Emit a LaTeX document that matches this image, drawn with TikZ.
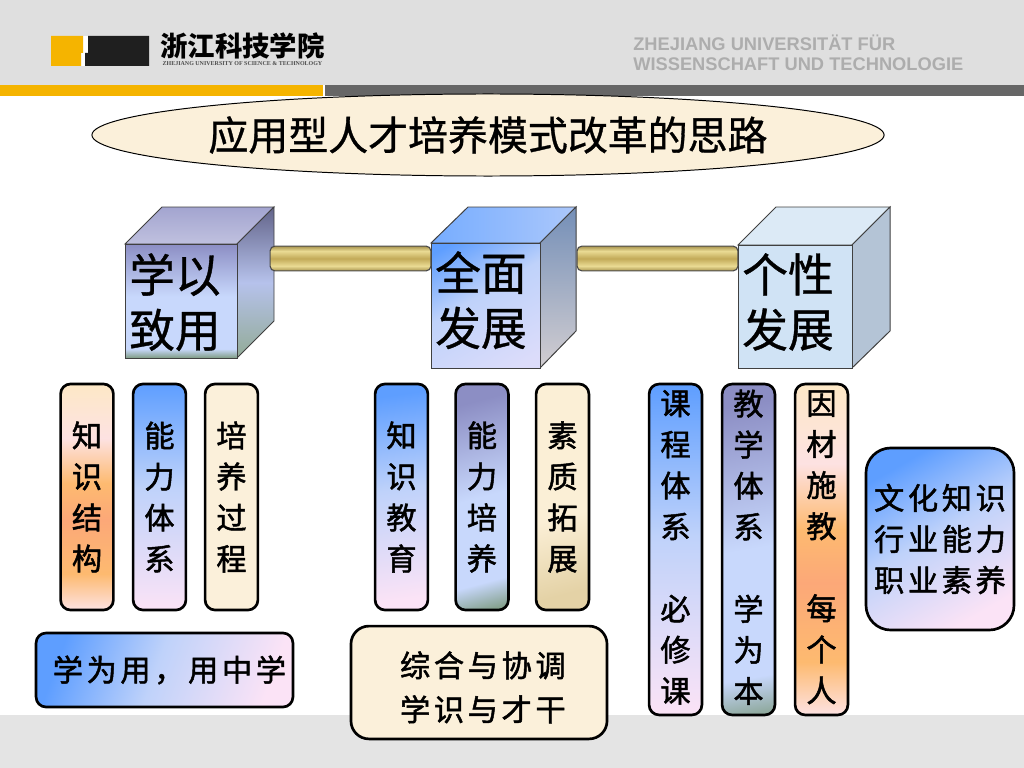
\documentclass[tikz,border=0pt]{standalone}
\usepackage{fontspec}
\usepackage{tikz}
\usetikzlibrary{shapes.geometric}
\newfontfamily\cjk[FakeBold=.8]{Noto Sans CJK SC}
\newfontfamily\cjklogo{Noto Sans CJK SC}
\newfontfamily\cjkbox[FakeBold=1.6]{Noto Sans CJK SC}
\newfontfamily\cjkwide[FakeBold=1.6,LetterSpace=12]{Noto Sans CJK SC}
\newfontfamily\latinlogo{Liberation Serif}
\newfontfamily\latinhead{Liberation Sans}

\definecolor{band}{HTML}{DFDFDF}
\definecolor{foot}{HTML}{E4E4E4}
\definecolor{gold}{HTML}{F5B400}
\definecolor{slate}{HTML}{666666}
\definecolor{parch}{HTML}{FBF0DA}
\definecolor{skyA}{HTML}{5E9EFF}
\definecolor{skyB}{HTML}{BFD2FA}
\definecolor{skyC}{HTML}{FBE3F6}
\definecolor{mauveA}{HTML}{8C8EC4}
\definecolor{mauveB}{HTML}{C8D8FC}
\definecolor{mossA}{HTML}{7F9C84}
\definecolor{peachA}{HTML}{FDE8C6}
\definecolor{peachB}{HTML}{FDE2E2}
\definecolor{peachC}{HTML}{FDBA70}
\definecolor{peachD}{HTML}{FCA878}
\definecolor{sandA}{HTML}{FBEFD6}
\definecolor{sandB}{HTML}{E4D2A6}
\definecolor{rodA}{HTML}{A8944E}
\definecolor{rodB}{HTML}{EADB94}
\definecolor{rodC}{HTML}{C2AA58}
\definecolor{iceA}{HTML}{DCEAF6}
\definecolor{iceB}{HTML}{D0E3F5}
\definecolor{iceC}{HTML}{B4C4D6}

\pgfdeclareverticalshading{skyfade}{100bp}{color(0bp)=(skyC); color(25bp)=(skyC); color(52bp)=(skyB); color(75bp)=(skyA); color(100bp)=(skyA)}
\pgfdeclareverticalshading{cubefade}{100bp}{color(0bp)=(mauveB!60!skyC); color(20bp)=(mauveB!60!skyC); color(55bp)=(skyB); color(80bp)=(skyA); color(100bp)=(skyA)}
\pgfdeclareverticalshading{mauvefade}{100bp}{color(0bp)=(mossA); color(25bp)=(mossA); color(29bp)=(mauveB); color(52bp)=(mauveB); color(75bp)=(mauveA); color(100bp)=(mauveA)}
\pgfdeclareverticalshading{cornerfade}{100bp}{color(0bp)=(mossA); color(20bp)=(mossA); color(28bp)=(mauveB); color(50bp)=(mauveB); color(75bp)=(mauveA); color(100bp)=(mauveA)}
\pgfdeclareverticalshading{peachfade}{100bp}{color(0bp)=(peachB); color(25bp)=(peachB); color(33bp)=(peachC); color(45bp)=(peachD); color(53bp)=(peachC); color(63bp)=(peachB); color(75bp)=(peachA); color(100bp)=(peachA)}
\pgfdeclareverticalshading{sandfade}{100bp}{color(0bp)=(sandB); color(25bp)=(sandB); color(45bp)=(sandA); color(100bp)=(sandA)}
\pgfdeclareverticalshading{rodfade}{100bp}{color(0bp)=(rodA); color(25bp)=(rodA); color(35bp)=(rodB); color(50bp)=(rodC); color(65bp)=(rodB); color(75bp)=(rodA); color(100bp)=(rodA)}

\tikzset{
  tallbox/.style={draw=black, line width=1.9pt, rounded corners=.25cm, inner sep=0pt,
    minimum width=1.32cm, minimum height=5.65cm, align=center,
    font=\cjkbox\fontsize{21.5}{29.2}\selectfont,
    execute at begin node={\rule{0pt}{21.7pt}}},
  longbox/.style={tallbox, minimum height=8.27cm,
    execute at begin node={}, execute at end node={\rule[-4.8pt]{0pt}{4.8pt}}},
  wordbox/.style={draw=black, line width=1.9pt, rounded corners=.25cm, inner sep=0pt, align=center,
    font=\cjkwide\fontsize{21.5}{29.2}\selectfont},
  facefront/.style={draw=black!75, line width=.7pt},
  cubetext/.style={inner sep=0pt, align=left, anchor=north west,
    font=\cjk\fontsize{32.5}{39.2}\selectfont},
  rodbar/.style={draw=black!70, line width=.8pt, rounded corners=.12cm, shading=rodfade,
    minimum height=.62cm, inner sep=0pt}
}

\begin{document}
\begin{tikzpicture}[x=.025cm,y=-.025cm]
\useasboundingbox (0,0) rectangle (1024,768);

% header and footer bands
\fill [band] (0,0) rectangle (1024,85);
\fill [foot] (0,715) rectangle (1024,768);
\fill [gold] (0,85) rectangle (323,96);
\fill [slate] (325,85) rectangle (1024,96);

% logo
\fill [white] (81,36) rectangle (88,66);
\fill [gold] (51,36) -- (83,36) -- (83,53) -- (81,53) -- (81,66) -- (51,66) -- cycle;
\fill [black!88] (88,36) -- (149,36) -- (149,66) -- (85,66) -- (85,53) -- (88,53) -- cycle;
\node (logo) at (242.5,46) {\cjklogo\bfseries\fontsize{19.5}{20}\selectfont 浙江科技学院};
\node (logoen) at (242.5,63.5) {\latinlogo\bfseries\fontsize{4.25}{5}\selectfont\color{black!70} ZHEJIANG UNIVERSITY OF SCIENCE \& TECHNOLOGY};
\node (german) [anchor=west, inner sep=0pt, align=left, text=black!32, font=\latinhead\bfseries\fontsize{13}{14.4}\selectfont] at (633,53)
  {ZHEJIANG UNIVERSITÄT FÜR\\WISSENSCHAFT UND TECHNOLOGIE};

% title
\node (title) [draw=black, ellipse, fill=parch, line width=.7pt, minimum width=19.8cm, minimum height=2.05cm, inner sep=0pt] at (488,135)
  {\cjk\fontsize{28.4}{30}\selectfont 应用型人才培养模式改革的思路};

% cubes
\coordinate (A) at (125,244);
\coordinate (B) at (237,358);
\coordinate (C) at (431,243);
\coordinate (D) at (540,368);
\coordinate (E) at (738,245);
\coordinate (F) at (852,368);

\shade [facefront, top color=mauveA!80, bottom color=mauveA!55!white] (125,244) -- (162,207) -- (274,207) -- (237,244) -- cycle;
\shade [facefront, top color=mauveA!70!black, bottom color=mossA!85!white, middle color=mauveB!70!mauveA] (237,244) -- (274,207) -- (274,321) -- (237,358) -- cycle;
\shade [facefront, shading=mauvefade] (A) rectangle (B);

\shade [facefront, left color=skyA!85!white, right color=skyB!80!skyA] (431,243) -- (468,207) -- (576,207) -- (540,243) -- cycle;
\shade [facefront, top color=skyA!60!black!70!white, bottom color=skyC!50!black!35!white] (540,243) -- (576,207) -- (576,331) -- (540,368) -- cycle;
\shade [facefront, shading=cubefade, shading angle=30] (C) rectangle (D);

\fill [facefront, fill=iceA] (738,245) -- (776,207) -- (890,207) -- (852,245) -- cycle;
\fill [facefront, fill=iceC] (852,245) -- (890,207) -- (890,331) -- (852,368) -- cycle;
\fill [facefront, fill=iceB] (E) rectangle (F);

\node (xueyi) [cubetext] at (129,253) {学以\\致用};
\node (quanmian) [cubetext] at (435,251) {全面\\发展};
\node (gexing) [cubetext] at (742,253) {个性\\发展};

% rods between the cubes
\node (rodone) [rodbar, minimum width=4.02cm] at (350.5,258.5) {};
\node (rodtwo) [rodbar, minimum width=4.02cm] at (657.5,258.5) {};

% first group
\node (zhishi) [tallbox, shading=peachfade] at (87,497) {知\\识\\结\\构};
\node (nengli) [tallbox, shading=skyfade] at (159.5,497) {能\\力\\体\\系};
\node (peiyang) [tallbox, fill=parch] at (231.5,497) {培\\养\\过\\程};
\node (xuewei) [wordbox, shading=skyfade, shading angle=70, minimum width=6.42cm, minimum height=1.85cm] at (164.5,670) {\hspace*{7pt}学为用，用中学};

% second group
\node (jiaoyu) [tallbox, shading=skyfade, shading angle=8] at (401.5,497) {知\\识\\教\\育};
\node (peiyu) [tallbox, shading=cornerfade, shading angle=15] at (482,497) {能\\力\\培\\养};
\node (suzhi) [tallbox, shading=sandfade, shading angle=15] at (562.5,497) {素\\质\\拓\\展};
\node (zonghe) [wordbox, fill=parch, rounded corners=.45cm, minimum width=6.4cm, minimum height=2.82cm, font=\cjkwide\fontsize{21.5}{31.3}\selectfont] at (479,682.5) {\rule{0pt}{25pt}\hspace*{5.5pt}综合与协调\\\hspace*{5.5pt}学识与才干};

% third group
\node (kecheng) [longbox, shading=skyfade] at (675.5,549.5) {课\\程\\体\\系\\ \\必\\修\\课};
\node (jiaoxue) [longbox, shading=cornerfade, shading angle=10] at (748.5,549.5) {教\\学\\体\\系\\ \\学\\为\\本};
\node (yincai) [longbox, shading=peachfade] at (821.5,549.5) {因\\材\\施\\教\\ \\每\\个\\人};
\node (wenhua) [wordbox, shading=skyfade, shading angle=30, rounded corners=.62cm, minimum width=3.7cm, minimum height=4.55cm] at (940,539) {文化知识\\行业能力\\职业素养};

\end{tikzpicture}
\end{document}
